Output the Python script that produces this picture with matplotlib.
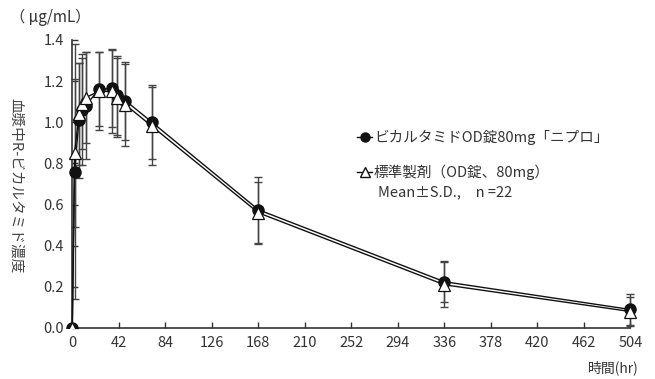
import matplotlib
matplotlib.use("Agg")
import matplotlib.pyplot as plt
from matplotlib.patches import Rectangle

plt.rcParams['font.family'] = ['Noto Sans CJK JP', 'DejaVu Sans']

# sampling times (hr)
times = [0, 2, 6, 9, 12, 24, 36, 40, 48, 72, 168, 336, 504]

# test product (black circles)
test_mean = [0, 0.76, 1.01, 1.06, 1.08, 1.16, 1.165, 1.13, 1.105, 1.00, 0.575, 0.225, 0.09]
test_sd = [0, 0.62, 0.28, 0.27, 0.26, 0.18, 0.19, 0.19, 0.19, 0.18, 0.16, 0.10, 0.075]

# reference product (white triangles)
ref_mean = [0, 0.85, 1.04, 1.09, 1.12, 1.15, 1.15, 1.12, 1.085, 0.98, 0.56, 0.21, 0.08]
ref_sd = [0, 0.36, 0.25, 0.22, 0.22, 0.19, 0.20, 0.19, 0.20, 0.19, 0.15, 0.11, 0.07]

xticks = list(range(0, 505, 42))
yticks = [0.0, 0.2, 0.4, 0.6, 0.8, 1.0, 1.2, 1.4]

fig = plt.figure(figsize=(6.55, 3.79), dpi=100)
ax = fig.add_axes([0.1104, 0.1346, 0.852, 0.76])

clip = Rectangle((-30, 0), 600, 2, transform=ax.transData, facecolor='none', edgecolor='none')
ax.add_patch(clip)

err_kw = dict(fmt='none', ecolor='#444444', elinewidth=1.0, capsize=3, capthick=1.0)
for m, s in ((test_mean, test_sd), (ref_mean, ref_sd)):
    ebs = ax.errorbar(times, m, yerr=s, **err_kw)
    for part in ebs.lines[1] + ebs.lines[2]:
        part.set_clip_path(clip)

l1, = ax.plot(times, test_mean, color='#111111', lw=1.0, marker='o', ms=8,
              mfc='#111111', mec='#111111', zorder=3)
l2, = ax.plot(times, ref_mean, color='#111111', lw=1.0, marker='^', ms=8,
              mfc='white', mec='#111111', mew=0.9, zorder=4)
for ln in (l1, l2):
    ln.set_clip_path(clip)

ax.set_xlim(0, 504)
ax.set_ylim(0, 1.4)
ax.set_xticks(xticks)
ax.set_yticks(yticks)
ax.set_yticklabels([f'{v:.1f}' for v in yticks])
for s in ('top', 'right'):
    ax.spines[s].set_visible(False)
for s in ('left', 'bottom'):
    ax.spines[s].set_color('#333333')
    ax.spines[s].set_linewidth(1.2)
ax.tick_params(direction='in', length=4, width=1, color='#333333',
               labelsize=10.5, labelcolor='#333333', pad=6)

fig.text(0.015, 0.955, '（ μg/mL）', fontsize=11, color='#333333', va='center')
fig.text(0.024, 0.51, '血漿中R-ビカルタミド濃度', fontsize=10.5, color='#444444',
         rotation=270, va='center', ha='center')
fig.text(0.975, 0.03, '時間(hr)', fontsize=10, color='#333333', ha='right', va='center')

# legend drawn by hand
lx0, lx1 = 0.545, 0.568
for ypos, mk, fc in ((0.638, 'o', '#111111'), (0.546, '^', 'white')):
    fig.add_artist(plt.Line2D([lx0, (lx0 + lx1) / 2, lx1], [ypos] * 3, color='#111111', lw=1.0,
                              marker=mk, markevery=[1], ms=6.5, mfc=fc, mec='#111111',
                              transform=fig.transFigure))
fig.text(0.571, 0.638, 'ビカルタミドOD錠80mg「ニプロ」', fontsize=10.5, color='#333333', va='center')
fig.text(0.571, 0.546, '標準製剤（OD錠、80mg）', fontsize=10.5, color='#333333', va='center')
fig.text(0.577, 0.493, 'Mean±S.D.,\u3000n =22', fontsize=10.5, color='#333333', va='center')

fig.savefig('out.png', dpi=100)
